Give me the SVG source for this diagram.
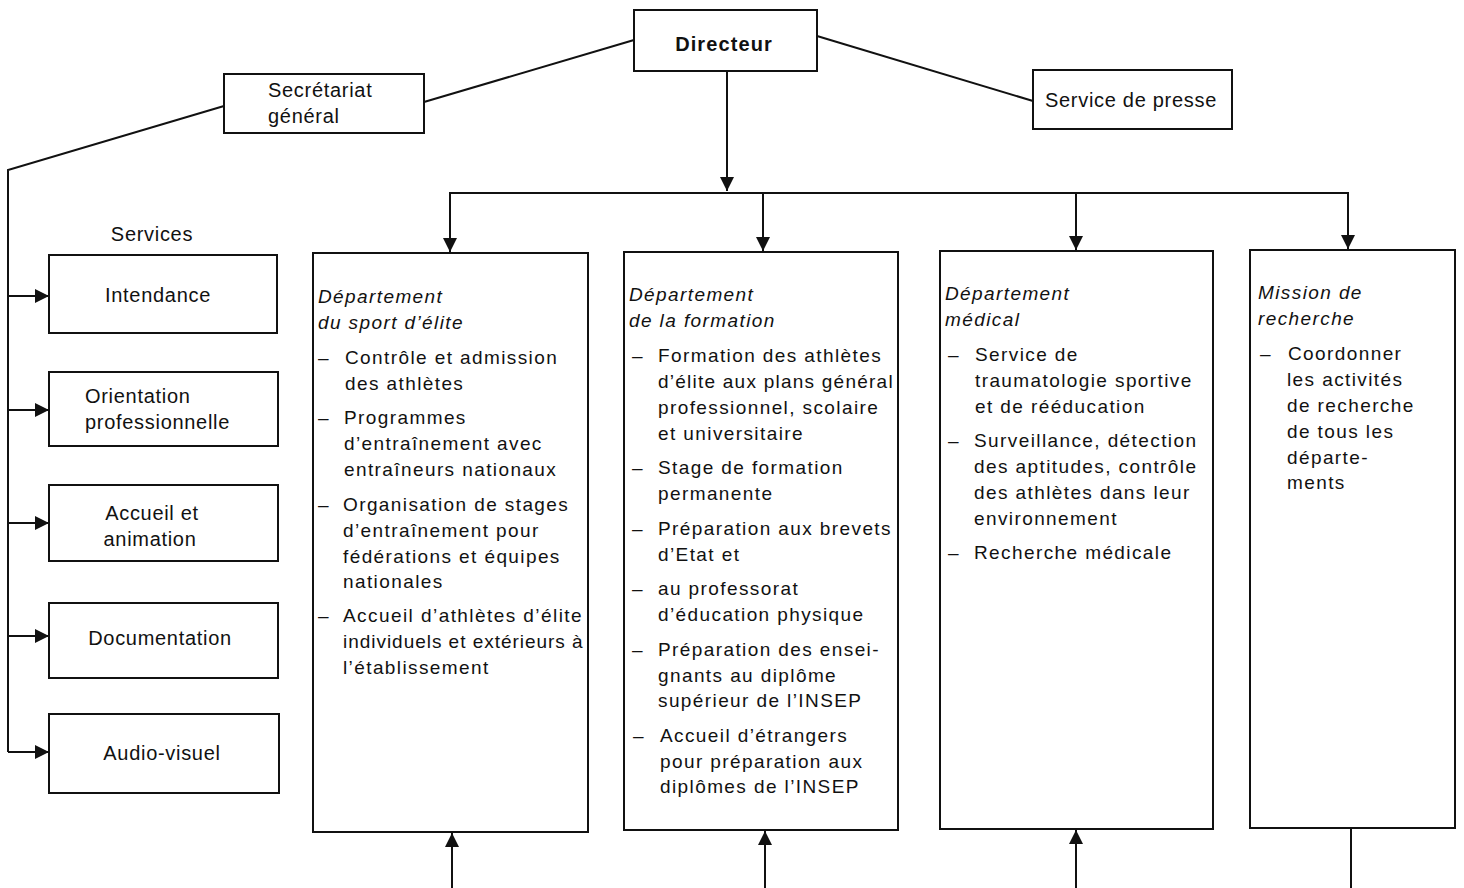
<svg xmlns="http://www.w3.org/2000/svg" width="1464" height="888" viewBox="0 0 1464 888">
<style>
.box{fill:#fff;stroke:#111;stroke-width:2}
.ln{fill:none;stroke:#111;stroke-width:2}
text{font-family:"Liberation Sans",Arial,sans-serif;font-size:20px;letter-spacing:0.7px;fill:#111}
.dep text{font-size:19px;letter-spacing:1.4px}
.it{font-style:italic}
.b{font-weight:bold;letter-spacing:1.1px}
.c{text-anchor:middle}
</style>
<defs>
<marker id="ah" viewBox="0 0 10 10" refX="10" refY="5" markerWidth="14" markerHeight="14" markerUnits="userSpaceOnUse" orient="auto">
<path d="M0,0 L10,5 L0,10 z" fill="#111"/>
</marker>
</defs>
<rect width="1464" height="888" fill="#fff"/>
<g id="connectors">
<line class="ln" x1="634" y1="40" x2="424" y2="102"/>
<polyline class="ln" points="224,106 8,170 8,752"/>
<line class="ln" x1="817" y1="36" x2="1033" y2="101"/>
<line class="ln" x1="727" y1="71" x2="727" y2="191" marker-end="url(#ah)"/>
<polyline class="ln" points="450,252 450,193 1348,193 1348,249" marker-end="url(#ah)"/>
<line class="ln" x1="763" y1="193" x2="763" y2="251" marker-end="url(#ah)"/>
<line class="ln" x1="1076" y1="193" x2="1076" y2="250" marker-end="url(#ah)"/>
<line class="ln" x1="450" y1="230" x2="450" y2="252" marker-end="url(#ah)"/>
<line class="ln" x1="8" y1="296" x2="49" y2="296" marker-end="url(#ah)"/>
<line class="ln" x1="8" y1="410" x2="49" y2="410" marker-end="url(#ah)"/>
<line class="ln" x1="8" y1="523" x2="49" y2="523" marker-end="url(#ah)"/>
<line class="ln" x1="8" y1="636" x2="49" y2="636" marker-end="url(#ah)"/>
<line class="ln" x1="8" y1="752" x2="49" y2="752" marker-end="url(#ah)"/>
<line class="ln" x1="452" y1="888" x2="452" y2="833" marker-end="url(#ah)"/>
<line class="ln" x1="765" y1="888" x2="765" y2="831" marker-end="url(#ah)"/>
<line class="ln" x1="1076" y1="888" x2="1076" y2="830" marker-end="url(#ah)"/>
<line class="ln" x1="1351" y1="828" x2="1351" y2="888"/>
</g>
<g id="directeur"><rect class="box" x="634" y="10" width="183" height="61"/><text class="b c" x="724" y="51">Directeur</text></g>
<g id="secretariat"><rect class="box" x="224" y="74" width="200" height="59"/><text x="268" y="97">Secrétariat</text><text x="268" y="123">général</text></g>
<g id="presse"><rect class="box" x="1033" y="70" width="199" height="59"/><text class="c" x="1131" y="107">Service de presse</text></g>
<text id="services-label" class="c" x="152" y="241">Services</text>
<g id="intendance"><rect class="box" x="49" y="255" width="228" height="78"/><text class="c" x="158" y="302">Intendance</text></g>
<g id="orientation"><rect class="box" x="49" y="372" width="229" height="74"/><text x="85" y="403">Orientation</text><text x="85" y="429">professionnelle</text></g>
<g id="accueil"><rect class="box" x="49" y="485" width="229" height="76"/><text class="c" x="152" y="520">Accueil et</text><text class="c" x="150" y="546">animation</text></g>
<g id="documentation"><rect class="box" x="49" y="603" width="229" height="75"/><text class="c" x="160" y="645">Documentation</text></g>
<g id="audiovisuel"><rect class="box" x="49" y="714" width="230" height="79"/><text class="c" x="162" y="760">Audio-visuel</text></g>
<g id="dep-elite" class="dep"><rect class="box" x="313" y="253" width="275" height="579"/>
<text class="it" x="318" y="303">Département</text><text class="it" x="318" y="329">du sport d’élite</text>
<text x="318" y="364">–</text><text x="345" y="364">Contrôle et admission</text><text x="345" y="390">des athlètes</text>
<text x="318" y="424">–</text><text x="344" y="424">Programmes</text><text x="344" y="450">d’entraînement avec</text><text x="344" y="476">entraîneurs nationaux</text>
<text x="318" y="511">–</text><text x="343" y="511">Organisation de stages</text><text x="343" y="537">d’entraînement pour</text><text x="343" y="563">fédérations et équipes</text><text x="343" y="588">nationales</text>
<text x="318" y="622">–</text><text x="343" y="622" textLength="240" lengthAdjust="spacing">Accueil d’athlètes d’élite</text><text x="343" y="648" textLength="241" lengthAdjust="spacing">individuels et extérieurs à</text><text x="343" y="674">l’établissement</text>
</g>
<g id="dep-formation" class="dep"><rect class="box" x="624" y="252" width="274" height="578"/>
<text class="it" x="629" y="301">Département</text><text class="it" x="629" y="327">de la formation</text>
<text x="632" y="362">–</text><text x="658" y="362">Formation des athlètes</text><text x="658" y="388" textLength="236" lengthAdjust="spacing">d’élite aux plans général</text><text x="658" y="414">professionnel, scolaire</text><text x="658" y="440">et universitaire</text>
<text x="632" y="474">–</text><text x="658" y="474">Stage de formation</text><text x="658" y="500">permanente</text>
<text x="632" y="535">–</text><text x="658" y="535">Préparation aux brevets</text><text x="658" y="561">d’Etat et</text>
<text x="632" y="595">–</text><text x="658" y="595">au professorat</text><text x="658" y="621">d’éducation physique</text>
<text x="632" y="656">–</text><text x="658" y="656">Préparation des ensei-</text><text x="658" y="682">gnants au diplôme</text><text x="658" y="707">supérieur de l’INSEP</text>
<text x="633" y="742">–</text><text x="660" y="742">Accueil d’étrangers</text><text x="660" y="768">pour préparation aux</text><text x="660" y="793">diplômes de l’INSEP</text>
</g>
<g id="dep-medical" class="dep"><rect class="box" x="940" y="251" width="273" height="578"/>
<text class="it" x="945" y="300">Département</text><text class="it" x="945" y="326">médical</text>
<text x="948" y="361">–</text><text x="975" y="361">Service de</text><text x="975" y="387">traumatologie sportive</text><text x="975" y="413">et de rééducation</text>
<text x="948" y="447">–</text><text x="974" y="447">Surveillance, détection</text><text x="974" y="473">des aptitudes, contrôle</text><text x="974" y="499">des athlètes dans leur</text><text x="974" y="525">environnement</text>
<text x="948" y="559">–</text><text x="974" y="559">Recherche médicale</text>
</g>
<g id="mission" class="dep"><rect class="box" x="1250" y="250" width="205" height="578"/>
<text class="it" x="1258" y="299">Mission de</text><text class="it" x="1258" y="325">recherche</text>
<text x="1260" y="360">–</text><text x="1288" y="360">Coordonner</text><text x="1287" y="386">les activités</text><text x="1287" y="412">de recherche</text><text x="1287" y="438">de tous les</text><text x="1287" y="464">départe-</text><text x="1287" y="489">ments</text>
</g>
</svg>
